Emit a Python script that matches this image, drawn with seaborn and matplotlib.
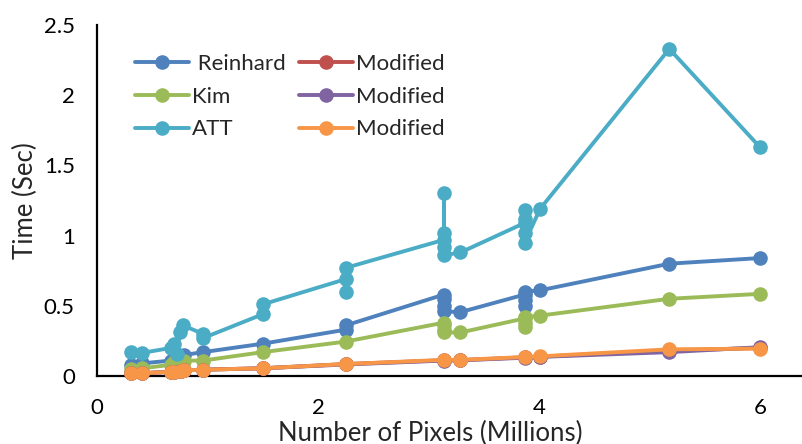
import matplotlib
matplotlib.use("Agg")
import matplotlib.pyplot as plt
import seaborn as sns
import pandas as pd

# ---- data ----
reinhard_x = [0.31, 0.41, 0.67, 0.70, 0.76, 0.79, 0.96, 1.5, 2.25, 2.25,
              3.14, 3.14, 3.14, 3.14, 3.29, 3.87, 3.87, 3.87, 3.87, 4.01, 5.18, 6.0]
reinhard_y = [0.08, 0.09, 0.11, 0.12, 0.13, 0.15, 0.17, 0.23, 0.33, 0.36,
              0.58, 0.55, 0.50, 0.46, 0.455, 0.58, 0.50, 0.54, 0.60, 0.61, 0.80, 0.84]

kim_x = [0.31, 0.41, 0.67, 0.70, 0.76, 0.79, 0.96, 1.5, 2.25,
         3.14, 3.14, 3.14, 3.14, 3.29, 3.87, 3.87, 3.87, 3.87, 4.01, 5.18, 6.0]
kim_y = [0.05, 0.055, 0.08, 0.10, 0.10, 0.11, 0.11, 0.17, 0.245,
         0.38, 0.36, 0.33, 0.31, 0.31, 0.41, 0.35, 0.38, 0.42, 0.43, 0.55, 0.585]

att_x = [0.31, 0.41, 0.67, 0.70, 0.72, 0.75, 0.78, 0.96, 0.96, 1.5, 1.5,
         2.25, 2.25, 2.25, 3.14, 3.14, 3.14, 3.14, 3.14, 3.29,
         3.87, 3.87, 3.87, 3.87, 3.87, 4.01, 5.18, 6.0]
att_y = [0.17, 0.165, 0.20, 0.23, 0.16, 0.31, 0.36, 0.30, 0.27, 0.44, 0.51,
         0.69, 0.60, 0.77, 0.97, 1.30, 1.02, 0.92, 0.86, 0.88,
         1.09, 1.18, 1.12, 1.02, 0.95, 1.19, 2.33, 1.63]

mod_x = [0.31, 0.41, 0.67, 0.70, 0.76, 0.79, 0.96, 1.5, 2.25, 3.14, 3.29, 3.87, 4.01, 5.18, 6.0]
mod_r_y = [0.02, 0.02, 0.03, 0.03, 0.035, 0.04, 0.045, 0.055, 0.085, 0.112, 0.113, 0.133, 0.138, 0.18, 0.20]
mod_p_y = [0.02, 0.02, 0.03, 0.03, 0.035, 0.04, 0.045, 0.055, 0.082, 0.110, 0.112, 0.130, 0.136, 0.17, 0.205]
mod_o_y = [0.02, 0.02, 0.03, 0.03, 0.035, 0.04, 0.045, 0.055, 0.085, 0.115, 0.115, 0.135, 0.14, 0.19, 0.195]

series_keys = ["Reinhard", "Kim", "ATT", "Mod_R", "Mod_K", "Mod_A"]
legend_labels = [" Reinhard", "Kim", "ATT", "Modified", "Modified", "Modified"]
colors = ["#4F81BD", "#9BBB59", "#4BACC6", "#C0504D", "#8064A2", "#F79646"]

frames = []
for key, xs, ys in [("Reinhard", reinhard_x, reinhard_y),
                    ("Kim", kim_x, kim_y),
                    ("ATT", att_x, att_y),
                    ("Mod_R", mod_x, mod_r_y),
                    ("Mod_K", mod_x, mod_p_y),
                    ("Mod_A", mod_x, mod_o_y)]:
    frames.append(pd.DataFrame({"x": xs, "y": ys, "series": key}))
df = pd.concat(frames, ignore_index=True)

sns.set_style("white")
plt.rcParams["font.family"] = ["Lato", "DejaVu Sans"]

fig = plt.figure(figsize=(8.03, 4.44), dpi=100)
ax = fig.add_axes([97 / 803, 1 - 376 / 444, 1 - 97 / 803, (376 - 25) / 444])

sns.lineplot(data=df, x="x", y="y", hue="series", hue_order=series_keys,
             palette=dict(zip(series_keys, colors)), estimator=None, sort=False,
             marker="o", markersize=10.5, markeredgewidth=0, linewidth=2.8,
             ax=ax, legend=False, clip_on=False, zorder=3)

ax.set_xlim(0, 6.39)
ax.set_ylim(0, 2.5)
ax.set_xticks([0, 2, 4, 6])
ax.set_xticklabels(["0", "2", "4", "6"])
ax.set_yticks([0, 0.5, 1, 1.5, 2, 2.5])
ax.set_yticklabels(["0", "0.5", "1", "1.5", "2", "2.5"])
ax.tick_params(axis="both", length=0, labelsize=16, pad=16, colors="black")

for s in ["top", "right"]:
    ax.spines[s].set_visible(False)
for s in ["left", "bottom"]:
    ax.spines[s].set_color("black")
    ax.spines[s].set_linewidth(1.6)

ax.set_xlabel("Number of Pixels (Millions)", fontsize=18.5)
ax.xaxis.set_label_coords((430 - 97) / 706, (376 - 433) / 351)
ax.xaxis.label.set_va("center")
ax.set_ylabel("Time (Sec)", fontsize=18.5, labelpad=4)

handles = ax.lines[:6]
ax.legend(handles, legend_labels, ncol=2, loc="upper left",
          bbox_to_anchor=(0.0535, 0.917), frameon=False, fontsize=16,
          handlelength=2.43, handletextpad=0.14, columnspacing=0.6,
          labelspacing=0.57, borderpad=0, borderaxespad=0)

fig.savefig("out.png", dpi=100)
